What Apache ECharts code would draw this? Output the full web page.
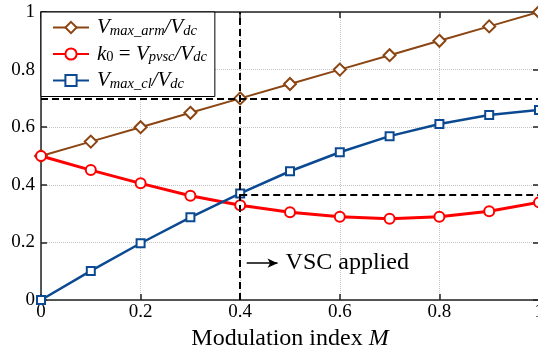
<!DOCTYPE html>
<html>
<head>
<meta charset="utf-8">
<script src="https://cdn.jsdelivr.net/npm/echarts@6/dist/echarts.min.js"></script>
<style>
  html, body { margin: 0; padding: 0; background: #fff; }
  #chart { width: 538px; height: 351px; }
</style>
</head>
<body>
<div id="chart"></div>
<script>
// Modulation index sweep
const modIndex = [0, 0.1, 0.2, 0.3, 0.4, 0.5, 0.6, 0.7, 0.8, 0.9, 1.0];
// V_max_arm / V_dc
const vMaxArm = [0.5, 0.55, 0.6, 0.65, 0.7, 0.75, 0.8, 0.85, 0.9, 0.95, 1.0];
// k0 = V_pvsc / V_dc
const k0 = [0.5, 0.451, 0.405, 0.362, 0.329, 0.305, 0.289, 0.282, 0.289, 0.308, 0.339];
// V_max_cl / V_dc
const vMaxCl = [0, 0.101, 0.197, 0.287, 0.37, 0.447, 0.513, 0.569, 0.611, 0.642, 0.66];

const seriesNames = ['V_max_arm/V_dc', 'k0 = V_pvsc/V_dc', 'V_max_cl/V_dc'];

// Reference lines: operating point M = 0.4
const opM = 0.4;
const armLevel = 0.7;
const clLevel = 0.365;
const arrowFrom = [0.413, 0.128];
const arrowTo = [0.475, 0.128];
const arrowText = 'VSC applied';

const SERIF = '"Liberation Serif", "DejaVu Serif", serif';
const BROWN = '#8b4513', RED = '#ff0000', BLUE = '#0b4a92';

const legendRich = {
  v: { fontFamily: SERIF, fontStyle: 'italic', fontSize: 21, lineHeight: 22, color: '#000' },
  s: { fontFamily: SERIF, fontStyle: 'italic', fontSize: 14.5, lineHeight: 13, verticalAlign: 'bottom', color: '#000' },
  n: { fontFamily: SERIF, fontSize: 21, lineHeight: 22, color: '#000' },
  ns: { fontFamily: SERIF, fontSize: 14.5, lineHeight: 13, verticalAlign: 'bottom', color: '#000' },
  g: { width: 3 }
};
const legendLabels = {
  [seriesNames[0]]: '{g|}{v|V}{s|max_arm}{v|/V}{s|dc}',
  [seriesNames[1]]: '{g|}{v|k}{ns|0}{n| = }{v|V}{s|pvsc}{v|/V}{s|dc}',
  [seriesNames[2]]: '{g|}{v|V}{s|max_cl}{v|/V}{s|dc}'
};

const pairs = (ys) => modIndex.map((x, i) => [x, ys[i]]);

const chart = echarts.init(document.getElementById('chart'), null, { renderer: 'canvas' });

const baseAxis = {
  type: 'value', min: 0, max: 1, interval: 0.2,
  axisLine: { show: true, onZero: false, lineStyle: { color: '#222', width: 1.5 } },
  axisTick: { show: true, inside: true, length: 6, lineStyle: { color: '#222', width: 1.5 } }
};

chart.setOption({
  animation: false,
  backgroundColor: '#fff',
  grid: { left: 41, top: 12, width: 498, height: 288, outerBoundsMode: 'none', containLabel: false },
  legend: {
    orient: 'vertical', left: 41, top: 12,
    padding: [5, 8, 5, 11],
    itemWidth: 36, itemHeight: 14, itemGap: 5,
    backgroundColor: '#fff', borderColor: '#000', borderWidth: 1,
    data: seriesNames,
    formatter: (name) => legendLabels[name],
    textStyle: { fontFamily: SERIF, rich: legendRich }
  },
  xAxis: [
    Object.assign({}, baseAxis, {
      position: 'bottom',
      name: '{t|Modulation index }{m|M}',
      nameLocation: 'middle', nameGap: 22,
      nameTextStyle: {
        rich: {
          t: { fontFamily: SERIF, fontSize: 24, color: '#000' },
          m: { fontFamily: SERIF, fontSize: 24, fontStyle: 'italic', color: '#000' }
        }
      },
      axisLabel: { margin: 3, fontFamily: SERIF, fontSize: 19, color: '#000' },
      splitLine: { show: true, lineStyle: { color: '#c4c4c4', type: 'dotted', width: 1 } }
    }),
    Object.assign({}, baseAxis, {
      position: 'top', axisLabel: { show: false }, splitLine: { show: false }
    })
  ],
  yAxis: [
    Object.assign({}, baseAxis, {
      position: 'left',
      axisLabel: { margin: 6, fontFamily: SERIF, fontSize: 19, color: '#000' },
      splitLine: { show: true, lineStyle: { color: '#c4c4c4', type: 'dotted', width: 1 } }
    }),
    Object.assign({}, baseAxis, {
      position: 'right', axisLabel: { show: false }, splitLine: { show: false }
    })
  ],
  series: [
    {
      name: 'guides', type: 'line', data: [], z: 1, silent: true,
      markLine: {
        silent: true, symbol: ['none', 'none'],
        lineStyle: { color: '#000', width: 2, type: [7, 4] },
        label: { show: false },
        data: [
          [{ coord: [opM, 0] }, { coord: [opM, 1] }],
          [{ coord: [0, armLevel] }, { coord: [1, armLevel] }],
          [{ coord: [opM, clLevel] }, { coord: [1, clLevel] }],
          [
            {
              coord: arrowFrom, symbol: 'none',
              lineStyle: { type: 'solid', width: 1.5 },
              label: {
                show: true, position: 'end', distance: 8, formatter: arrowText,
                fontFamily: SERIF, fontSize: 24, color: '#000'
              }
            },
            { coord: arrowTo, symbol: 'arrow', symbolSize: [7, 10] }
          ]
        ]
      }
    },
    {
      name: seriesNames[0], type: 'line', z: 3,
      data: pairs(vMaxArm),
      symbol: 'emptyDiamond', symbolSize: 12,
      lineStyle: { color: BROWN, width: 2 },
      itemStyle: { color: BROWN, borderWidth: 2 }
    },
    {
      name: seriesNames[1], type: 'line', z: 3,
      data: pairs(k0),
      symbol: 'emptyCircle', symbolSize: 10,
      lineStyle: { color: RED, width: 3 },
      itemStyle: { color: RED, borderWidth: 2 }
    },
    {
      name: seriesNames[2], type: 'line', z: 3,
      data: pairs(vMaxCl),
      symbol: 'emptyRect', symbolSize: 8,
      lineStyle: { color: BLUE, width: 2.5 },
      itemStyle: { color: BLUE, borderWidth: 2 }
    }
  ]
});
</script>
</body>
</html>
